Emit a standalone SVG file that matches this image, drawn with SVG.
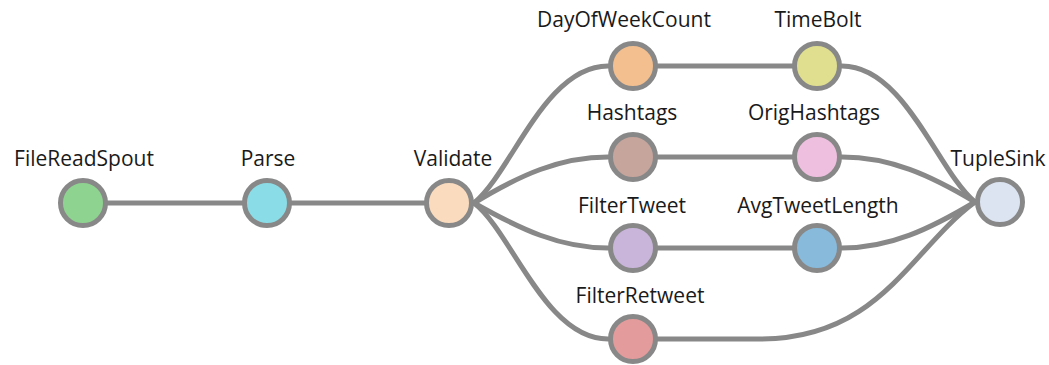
<svg xmlns="http://www.w3.org/2000/svg" width="1049" height="365" viewBox="0 0 1049 365">
  <style>
    .edge { fill: none; stroke: #888888; stroke-width: 5; stroke-linecap: round; }
    .node circle { stroke: #888888; stroke-width: 5; }
    .node text { font-family: "Open Sans", "Noto Sans", sans-serif; font-size: 21px; fill: #1a1a1a; text-anchor: middle; }
  </style>
  <rect width="1049" height="365" fill="#ffffff"/>

  <!-- connectors -->
  <g id="edges">
    <path class="edge" d="M83,203 L267,203"/>
    <path class="edge" d="M267,203 L449,203"/>
    <path class="edge" d="M474,203 C512,172 545,66 608,66"/>
    <path class="edge" d="M474,203 C520,175 560,157 608,157"/>
    <path class="edge" d="M474,203 C520,229 560,248 608,248"/>
    <path class="edge" d="M474,203 C512,232 545,339 608,339"/>
    <path class="edge" d="M633,66 L817,66"/>
    <path class="edge" d="M633,157 L817,157"/>
    <path class="edge" d="M633,248 L817,248"/>
    <path class="edge" d="M842,66 C905,66 938,172 975,202"/>
    <path class="edge" d="M842,157 C890,157 930,175 975,202"/>
    <path class="edge" d="M842,248 C890,248 930,229 975,202"/>
    <path class="edge" d="M633,339 L760,339 C880,339 910,250 975,202"/>
  </g>

  <!-- nodes -->
  <g id="FileReadSpout" class="node">
    <circle cx="83" cy="203" r="22.5" fill="#8fd390"/>
    <text x="84" y="166">FileReadSpout</text>
  </g>
  <g id="Parse" class="node">
    <circle cx="267" cy="203" r="22.5" fill="#8adde6"/>
    <text x="268" y="166">Parse</text>
  </g>
  <g id="Validate" class="node">
    <circle cx="449" cy="203" r="22.5" fill="#fadbbd"/>
    <text x="453" y="166">Validate</text>
  </g>
  <g id="DayOfWeekCount" class="node">
    <circle cx="633" cy="66" r="22.5" fill="#f3bf8f"/>
    <text x="624" y="27">DayOfWeekCount</text>
  </g>
  <g id="TimeBolt" class="node">
    <circle cx="817" cy="66" r="22.5" fill="#dfdf8f"/>
    <text x="818" y="27">TimeBolt</text>
  </g>
  <g id="Hashtags" class="node">
    <circle cx="633" cy="157" r="22.5" fill="#c6a59d"/>
    <text x="632" y="120">Hashtags</text>
  </g>
  <g id="OrigHashtags" class="node">
    <circle cx="817" cy="157" r="22.5" fill="#efbfdf"/>
    <text x="814" y="120">OrigHashtags</text>
  </g>
  <g id="FilterTweet" class="node">
    <circle cx="633" cy="248" r="22.5" fill="#c9b5da"/>
    <text x="632" y="213">FilterTweet</text>
  </g>
  <g id="AvgTweetLength" class="node">
    <circle cx="817" cy="248" r="22.5" fill="#87badb"/>
    <text x="818" y="213">AvgTweetLength</text>
  </g>
  <g id="FilterRetweet" class="node">
    <circle cx="633" cy="339" r="22.5" fill="#e39b9b"/>
    <text x="640" y="303">FilterRetweet</text>
  </g>
  <g id="TupleSink" class="node">
    <circle cx="1000" cy="202" r="22.5" fill="#dce4f2"/>
    <text x="998" y="166">TupleSink</text>
  </g>
</svg>
